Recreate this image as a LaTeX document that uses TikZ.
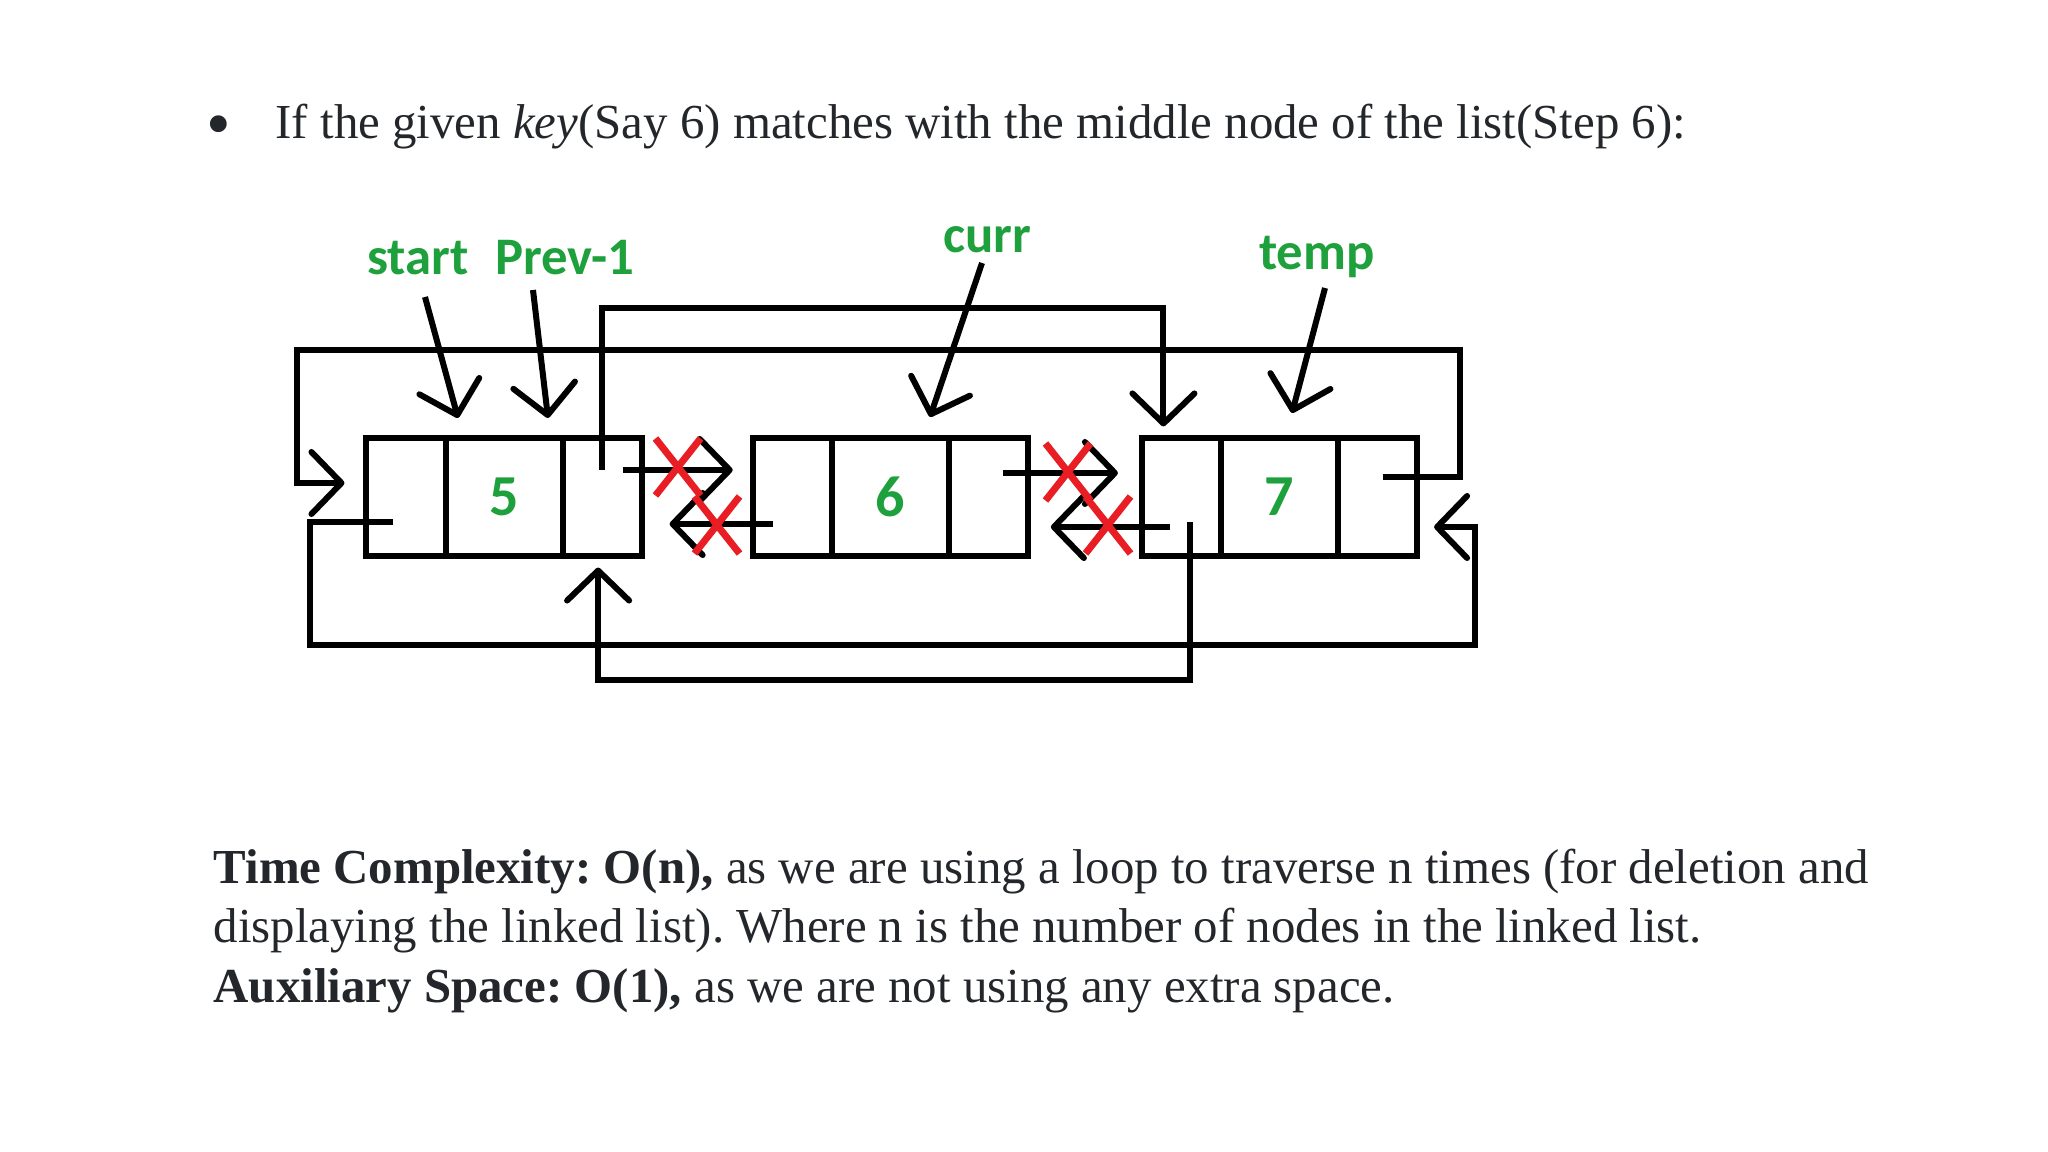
\documentclass[tikz,border=0pt]{standalone}
\usepackage{fontspec}
\setmainfont{Liberation Serif}
\newfontfamily\labelfont{Carlito}
\usetikzlibrary{positioning,calc,arrows.meta,shapes.misc}
\frenchspacing

\definecolor{listgreen}{RGB}{30, 160, 60}
\definecolor{listred}{RGB}{232, 30, 36}
\definecolor{textgray}{RGB}{35, 38, 42}

\tikzset{
  cell/.style={draw, line width=0.06cm, minimum height=1.17cm, outer sep=0pt, inner sep=0pt},
  ptrcell/.style={cell, minimum width=0.79cm},
  datacell/.style={cell, minimum width=1.17cm, text=listgreen,
    font=\labelfont\bfseries\fontsize{16.5}{20}\selectfont},
  link/.style={line width=0.06cm, -{Straight Barb[length=0.3cm, width=0.62cm, round]}},
  ptrlabel/.style={anchor=base, inner sep=0pt, text height=0.33cm, text depth=0cm,
    text=listgreen, font=\labelfont\bfseries\fontsize{15}{18}\selectfont},
  cut/.style={cross out, draw=listred, line width=0.07cm, minimum width=0.38cm,
    minimum height=0.5cm, inner sep=0pt},
  txt/.style={anchor=base west, inner sep=0pt, text=textgray,
    font=\fontsize{13.9}{17}\selectfont}
}

\begin{document}
\begin{tikzpicture}[x=0.01cm, y=-0.01cm]
  \useasboundingbox (0,0) rectangle (2048,1152);

  % heading
  \node[text=textgray, font=\fontsize{20}{20}\selectfont] (bullet) at (219,132) {\textbullet};
  \node[txt] (title) at (275,139) {If the given \textit{key}(Say 6) matches with the middle node of the list(Step 6):};

  % the three list nodes: prev | data | next
  \node[ptrcell] (p5) at (406,497) {};
  \node[datacell, right=0pt of p5] (d5) {5};
  \node[ptrcell, right=0pt of d5] (n5) {};
  \node[ptrcell, right=1.11cm of n5] (p6) {};
  \node[datacell, right=0pt of p6] (d6) {6};
  \node[ptrcell, right=0pt of d6] (n6) {};
  \node[ptrcell, right=1.14cm of n6] (p7) {};
  \node[datacell, right=0pt of p7] (d7) {7};
  \node[ptrcell, right=0pt of d7] (n7) {};

  % pointer names
  \node[ptrlabel] (lstart) at (418,275) {start};
  \node[ptrlabel] (lprev) at (565,275) {Prev-1};
  \node[ptrlabel] (lcurr) at (987,253) {curr};
  \node[ptrlabel] (ltemp) at (1317,270) {temp};
  \coordinate (tstart) at (458,418);
  \coordinate (tprev) at (548,418);
  \coordinate (tcurr) at (930,417);
  \coordinate (ttemp) at (1292,413);
  \draw[link] ([shift={(7,22)}]lstart.base) -- (tstart);
  \draw[link] ([shift={(-32,15)}]lprev.base) -- (tprev);
  \draw[link] ([shift={(-5,10)}]lcurr.base) -- (tcurr);
  \draw[link] ([shift={(8,18)}]ltemp.base) -- (ttemp);

  % old links around 6 (to be removed)
  \draw[link] ($(n5.center)+(21,-27)$) -- ($(p6.west)+(-20,-27)$);
  \draw[link] ($(p6.center)+(-19,27)$) -- ($(n5.east)+(28,27)$);
  \draw[link] ($(n6.center)+(15,-24)$) -- ($(p7.west)+(-24,-24)$);
  \draw[link] ($(p7.center)+(-11,30)$) -- ($(n6.east)+(23,30)$);
  \node[cut] (x56) at (678,467) {};
  \node[cut] (x65) at (717,525) {};
  \node[cut] (x67) at (1068,472) {};
  \node[cut] (x76) at (1108,525) {};

  % circular links 7 -> 5 and 5 -> 7
  \draw[link] ($(n7.center)+(5,-20)$) -| (1460,350) -| (297,483) -- ($(p5.west)+(-22,-14)$);
  \draw[link] ($(p5.center)+(-13,25)$) -| (310,645) -| (1475,527) -- ($(n7.east)+(17,30)$);

  % new links 5 -> 7 and 7 -> 5
  \draw[link] ($(n5.center)+(0,-27)$) |- ($(p7.north)+(-18,-130)$) -- ($(p7.north)+(-18,-12)$);
  \draw[link] ($(p7.center)+(9,25)$) |- ($(n5.south)+(-4,124)$) -- ($(n5.south)+(-4,12)$);

  % complexity
  \node[txt] (line1) at (213,883) {\textbf{Time Complexity: O(n),} as we are using a loop to traverse n times (for deletion and};
  \node[txt] (line2) at (213,942) {displaying the linked list). Where n is the number of nodes in the linked list.};
  \node[txt] (line3) at (213,1002) {\textbf{Auxiliary Space: O(1),} as we are not using any extra space.};
\end{tikzpicture}
\end{document}
